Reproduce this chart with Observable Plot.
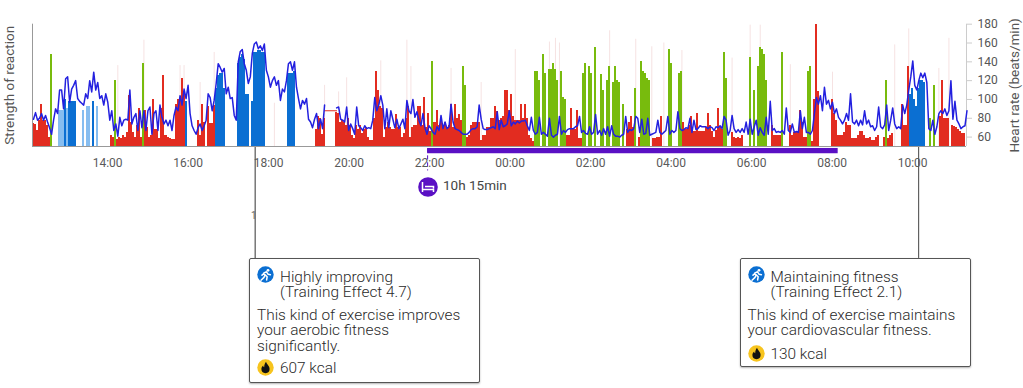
<!DOCTYPE html>
<html><head><meta charset="utf-8">
<script src="https://cdn.jsdelivr.net/npm/d3@7"></script>
<script src="https://cdn.jsdelivr.net/npm/@observablehq/plot@0.6"></script>
<style>
html,body{margin:0;padding:0;background:#fff;width:1023px;height:388px;overflow:hidden}
#wrap{position:relative;width:1023px;height:388px;font-family:Roboto,sans-serif}
.box{position:absolute;box-sizing:border-box;background:#fff;border:1px solid #555;border-radius:2px;box-shadow:0 1px 2px rgba(0,0,0,.3);color:#2a2a2a;font-weight:300;font-size:15.4px;line-height:14px}
.box div{position:absolute;white-space:nowrap}
.box svg{position:absolute}
</style></head><body><div id="wrap"><div id="chart"></div></div>
<script>
const reaction = [
74,73,67,78,95,78,78,72,60,148,
0,0,0,88,88,88,100,90,98,98,
98,98,0,0,0,88,0,92,92,0,
98,0,92,0,0,0,0,0,0,62,
60,120,57,60,58,62,60,65,104,75,
65,60,72,90,60,138,88,70,60,62,
100,68,68,58,90,125,62,60,58,57,
57,95,100,100,122,105,98,0,0,0,
0,0,78,62,95,75,0,92,74,74,
94,112,125,128,128,112,0,0,0,0,
0,0,138,145,148,142,105,105,0,98,
150,150,152,152,150,150,0,0,0,0,
0,0,0,0,0,0,0,128,128,128,
130,0,0,0,0,0,0,0,0,0,
0,68,82,80,63,80,0,0,0,0,
0,86,85,75,78,76,72,80,72,62,
58,72,68,72,64,68,70,60,56,56,
80,130,110,92,90,60,70,76,70,68,
68,84,70,70,60,64,80,92,60,70,
72,72,92,92,72,102,70,85,66,140,
76,88,72,80,72,75,70,72,95,70,
95,80,84,78,135,115,60,62,72,76,
76,76,76,56,62,62,70,70,80,80,
92,87,78,80,82,110,110,88,105,82,
78,78,78,95,80,95,80,62,58,55,
130,130,120,0,148,128,0,132,132,138,
132,120,0,130,102,100,62,62,90,68,
68,88,58,58,128,138,0,135,128,0,
155,0,0,127,110,0,120,135,0,118,
135,120,118,0,95,0,68,75,82,70,
112,0,60,140,130,128,122,120,0,58,
58,60,60,82,0,0,0,153,138,0,
0,0,128,130,75,68,68,72,82,66,
66,85,66,66,66,70,85,72,66,60,
67,90,70,68,150,122,0,0,65,60,
58,60,58,62,0,0,0,145,0,110,
0,135,155,153,148,120,0,0,72,62,
62,62,62,150,0,0,0,72,62,65,
65,65,88,75,60,60,130,135,55,100,
180,108,0,0,0,0,0,0,100,85,
78,62,62,62,65,75,72,72,58,58,
58,62,66,66,62,58,58,60,56,56,
60,62,0,0,60,120,58,62,64,0,
0,0,0,95,72,72,135,105,112,100,
92,112,120,120,118,0,0,80,0,115,
0,0,82,120,80,80,80,0,72,71,
70,68,66,64,64];
const zones = [
"rrrrrrrrrg","...lllblbb","bb...l.ll.","b.l......r","rgrrrrrrrr","rrrrrgrrrr","rrrrrrrrrr","rrrrrrb...",
"..rrrr.rrr","rbbbbb....","..bbbbbb.b","bbbbbb....",".......bbb","b.........",".rrrrr....",".rrrrrrrrr",
"rrrrrrrrrr","rrrrrrrrrr","rrrrrrrrrr","rrrrrrrrrg","rrrrrrrrrr","rrrrggrrrr","rrrrrrrrrr","rrrrrrrrrr","rrrrrrrrrr",
"ggg.gg.ggg","gg.gggrrrr","rrrrgg.gg.","g..gg.gg.g","ggg.g.rrrr","g.rggggg.r","rrrr...gg.","..ggrrrrrr",
"rrrrrrrrrr","rrrrgg..rr","rrrr...g.g",".ggggg..rr","rrrg...rrr","rrrrrrggrr","rr......rr","rrrrrrrrrr","rrrrrrrrrr",
"rr..rgrrr.","...rrrrbbb","bbbbb..g.g","..rrrrr.rr","rrrrr"].join("");
const heartRate = [
79,86,78,80,85,78,83,76,70,63,
78,90,85,110,110,90,122,124,97,111,
115,120,101,98,96,94,106,101,120,108,
129,110,118,101,104,94,106,97,78,88,
67,74,61,81,72,78,79,78,110,74,
81,85,67,88,70,88,67,88,92,63,
85,88,67,94,81,74,78,72,78,67,
83,92,88,104,94,111,101,115,85,72,
67,63,70,74,67,72,78,106,102,88,
99,117,138,134,129,133,106,113,101,102,
83,78,140,151,153,138,131,117,124,149,
159,161,154,157,152,159,131,124,113,120,
124,115,120,99,111,108,120,138,140,131,
140,113,101,90,99,95,101,79,76,70,
79,85,69,79,69,94,null,null,null,null,
null,91,92,79,78,76,92,67,74,69,
63,92,72,70,67,72,69,70,69,78,
102,88,94,104,94,69,90,70,88,79,
70,79,69,74,79,69,99,88,85,100,
81,87,78,72,85,70,63,72,69,65,
63,71,67,83,69,76,69,71,95,76,
69,68,67,65,63,63,63,65,68,69,
69,71,94,79,69,68,68,69,70,71,
69,87,68,78,71,72,74,88,72,76,
74,77,75,77,77,78,72,67,81,67,
63,65,81,63,65,63,61,80,62,60,
62,63,82,63,67,65,68,69,69,69,
71,72,82,65,67,64,63,71,63,65,
84,63,67,62,69,63,71,61,72,63,
61,61,60,62,63,82,65,68,67,69,
82,80,65,79,63,64,80,62,63,64,
65,78,65,63,65,67,82,63,67,65,
67,87,69,67,68,70,69,80,65,78,
68,69,72,71,71,71,69,71,70,67,
71,70,72,69,82,78,62,67,83,69,
65,68,65,69,65,76,63,79,63,71,
78,62,70,65,62,81,63,98,67,69,
65,66,65,67,63,91,67,65,74,65,
66,65,88,69,81,65,65,63,67,85,
102,95,104,88,113,95,99,90,97,85,
90,81,78,74,78,85,78,106,76,74,
78,72,78,73,88,74,78,71,72,67,
71,92,71,69,73,94,67,78,91,74,
69,71,69,94,85,94,110,124,141,115,
110,120,128,123,128,118,69,67,78,63,
71,85,88,85,90,83,88,120,79,98,
78,74,69,71,72,88];
const gapBins = [145,151];
const gapRates = [88,88];
const peakBins = [42,55,73,75,83,90,120,145,152,156,173,186,188,208,223,240,257,260,262,287,300,308,314,323,348,357,362,377,398,429,436,451,456];
const peakValues = [136,163,136,136,118,150,96,115,108,123,141,163,135,133,118,153,161,165,160,173,164,156,160,152,144,179,179,137,129,158,175,133,165];
const tickHours = ["14:00","16:00","18:00","20:00","22:00","00:00","02:00","04:00","06:00","08:00","10:00"];
const rateTicks = [60,80,100,120,140,160,180];
const zoneDomain = ["r","g","b","l"];
const zoneColors = ["#e22c20","#78bb0d","#0b6fd2","#86bdf0"];

const start = Date.UTC(2020,0,1,12,8);
const minute = 60000;
const binMinutes = 2.9925;
const at = n => new Date(start + n*binMinutes*minute);
const clock = (day,h,m=0) => new Date(Date.UTC(2020,0,day,h,m));
const tickDates = tickHours.map(s => { const [h,m]=s.split(":").map(Number); return clock(h>=12?1:2,h,m); });
const bars = reaction.map((v,i)=>({i,v,z:zones[i]})).filter(d=>d.v>0);
const hr = heartRate.map((v,i)=>({i,v}));
const peaks = peakBins.map((i,k)=>({i,v:peakValues[k]}));
const gap = gapBins.map((i,k)=>({i,v:gapRates[k]}));
const leaders = [{t:clock(1,17,40),c:"#777",w:1.5},{t:clock(2,10,9),c:"#444",w:1}];
const sleep = [{a:clock(1,21,57.5),b:clock(2,8,9)}];
const below = -69;

const plot = Plot.plot({
  width:1023,height:388,marginLeft:32,marginRight:57,marginTop:23.7,marginBottom:242,
  style:{fontFamily:"Roboto,sans-serif",background:"transparent",overflow:"visible"},
  x:{type:"utc",domain:[new Date(start),new Date(start+23.205*60*minute)],axis:null},
  y:{domain:[50,180],axis:null},
  color:{domain:zoneDomain,range:zoneColors},
  marks:[
    Plot.ruleX(peaks,{x:d=>at(d.i+.5),y1:50,y2:"v",stroke:"#f6e2e2",strokeWidth:1}),
    Plot.rect(bars,{x1:d=>at(d.i),x2:d=>at(d.i+1),y1:50,y2:"v",fill:"z",shapeRendering:"crispEdges"}),
    Plot.ruleX(sleep,{x:"a",y1:47.5,y2:24,stroke:"#5a10c4",strokeDasharray:"4,3"}),
    Plot.rect(sleep,{x1:"a",x2:"b",y1:47.9,y2:42.3,fill:"#5a10c4"}),
    Plot.ruleX(leaders,{x:"t",y1:50,y2:below,stroke:"c",strokeWidth:"w"}),
    Plot.ruleY([50],{stroke:"#999"}),
    Plot.ruleX([new Date(start)],{stroke:"#999"}),
    Plot.ruleX([new Date(start+23.205*60*minute)],{stroke:"#ccc"}),
    Plot.line(gap,{x:d=>at(d.i+.5),y:"v",stroke:"#e22c20",strokeWidth:1}),
    Plot.line(hr,{x:d=>at(d.i+.5),y:"v",stroke:"#2320df",strokeWidth:1.5,curve:"linear"}),
    Plot.axisX({ticks:tickDates,tickFormat:d3.utcFormat("%H:%M"),tickSize:0,tickPadding:12,fontSize:12,color:"#5a5a5a",label:null}),
    Plot.axisY({anchor:"right",ticks:rateTicks,tickSize:5,tickPadding:6,fontSize:12,stroke:"#ccc",fill:"#555",label:null}),
    Plot.text(["Strength of reaction"],{frameAnchor:"left",textAnchor:"middle",rotate:-90,dx:-23,fontSize:13.5,fill:"#555"}),
    Plot.text(["Heart rate (beats/min)"],{frameAnchor:"right",textAnchor:"middle",rotate:-90,dx:48,fontSize:13.5,fill:"#555"})
  ]
});
document.getElementById("chart").appendChild(plot);

const runner = (x,y)=>`<svg style="left:${x}px;top:${y}px" width="17" height="17" viewBox="0 0 17 17"><circle cx="8.5" cy="8.5" r="8.2" fill="#0b6fd2"/><circle cx="11" cy="4.3" r="1.4" fill="#fff"/><path d="M4 14.2l3-2.8 1.2-2.5-1.6-1L5 9.2M8.2 8.900l2 1.800-.6 3.300M6.600 7.100l2.900-1.300 1.700 2.500 2.200.4" fill="none" stroke="#fff" stroke-width="1.500" stroke-linecap="round" stroke-linejoin="round"/></svg>`;
const flame = (x,y)=>`<svg style="left:${x}px;top:${y}px" width="17" height="17" viewBox="0 0 17 17"><circle cx="8.500" cy="8.500" r="8.200" fill="#f7c41e"/><path d="M9 2.800c.6 2.400 3.600 3.900 3.600 7.300a4.100 4.100 0 0 1-8.200 0c0-1.700.8-2.800 1.800-3.700.1 1 .4 1.500 1 1.800C7.200 6.200 7.800 4.200 9 2.800z" fill="#111"/></svg>`;
const box = (left,top,w,h,title,te,lines,kcal,ky)=>{
  const el=document.createElement("div");el.className="box";
  el.style.cssText=`left:${left}px;top:${top}px;width:${w}px;height:${h}px`;
  let s=runner(7,7)+`<div style="left:30px;top:10.500px">${title}</div><div style="left:30px;top:25.500px">${te}</div>`;
  lines.forEach((l,i)=>s+=`<div style="left:7px;top:${48.500+i*15.500}px">${l}</div>`);
  s+=flame(7,ky)+`<div style="left:30px;top:${ky+1.500}px">${kcal}</div>`;
  el.innerHTML=s;document.getElementById("wrap").appendChild(el);
};
box(249,258,231,125,"Highly improving","(Training Effect 4.7)",["This kind of exercise improves","your aerobic fitness","significantly."],"607 kcal",100);
box(739.500,258,231,109,"Maintaining fitness","(Training Effect 2.1)",["This kind of exercise maintains","your cardiovascular fitness."],"130 kcal",86);
const w=document.getElementById("wrap");
const sl=document.createElement("div");
sl.innerHTML=`<svg style="position:absolute;left:418px;top:177px" width="20" height="20" viewBox="0 0 20 20"><circle cx="10" cy="10" r="9.800" fill="#5a10c4"/><path d="M4.500 5v10M4.500 12.500h11V15M7 9.500h8.500v2" stroke="#fff" stroke-width="1.500" fill="none"/></svg><div style="position:absolute;left:443px;top:177px;font-size:13.500px;line-height:16px;color:#444">10h 15min</div><div style="position:absolute;left:251px;top:210px;font-size:10px;line-height:12px;color:#666">1</div>`;
w.appendChild(sl);
</script></body></html>
